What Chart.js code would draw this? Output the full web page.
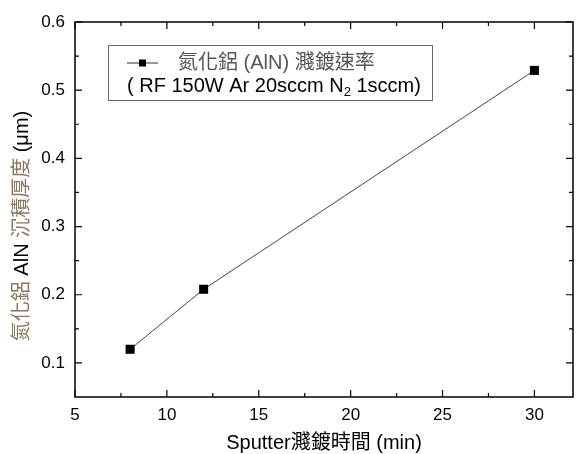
<!DOCTYPE html>
<html>
<head>
<meta charset="utf-8">
<script src="https://cdn.jsdelivr.net/npm/chart.js@4"></script>
<style>
  html, body { margin: 0; background: #fff; }
  #wrap { width: 587px; height: 454px; }
</style>
</head>
<body>
<div id="wrap"><canvas id="chart"></canvas></div>
<script>
// Data
const sputterTime = [8, 12, 30];
const thickness = [0.12, 0.208, 0.529];
const xTicks = [5, 10, 15, 20, 25, 30];
const yTicks = [0.1, 0.2, 0.3, 0.4, 0.5, 0.6];
const seriesLabel = "氮化鋁 (AlN) 濺鍍速率";
const conditionText = ["( RF 150W Ar 20sccm N", "2", " 1sccm)"];
const xTitle = "Sputter濺鍍時間 (min)";
const yTitleParts = [["氮化鋁", true], [" AlN ", false], ["沉積厚度", true], [" (μm)", false]];

const FONT = '"Liberation Sans", Arial, "Noto Sans CJK TC", sans-serif';
const CJK_COLOR = "#8a7560";

// Frame, inward ticks, titles, legend
const framePlugin = {
  id: "frame",
  afterDraw(chart) {
    const ctx = chart.ctx;
    const a = chart.chartArea;
    const xs = chart.scales.x;
    const ys = chart.scales.y;
    ctx.save();
    ctx.strokeStyle = "#000";
    ctx.lineWidth = 1.5;
    ctx.strokeRect(a.left, a.top, a.right - a.left, a.bottom - a.top);

    ctx.lineWidth = 1.2;
    ctx.beginPath();
    xTicks.forEach((v) => {
      const px = xs.getPixelForValue(v);
      ctx.moveTo(px, a.bottom); ctx.lineTo(px, a.bottom - 7);
      ctx.moveTo(px, a.top); ctx.lineTo(px, a.top + 7);
      const mv = v + 2.5;
      if (mv < xs.max) {
        const mp = xs.getPixelForValue(mv);
        ctx.moveTo(mp, a.bottom); ctx.lineTo(mp, a.bottom - 4);
        ctx.moveTo(mp, a.top); ctx.lineTo(mp, a.top + 4);
      }
    });
    yTicks.forEach((v) => {
      const py = ys.getPixelForValue(v);
      ctx.moveTo(a.left, py); ctx.lineTo(a.left + 7, py);
      ctx.moveTo(a.right, py); ctx.lineTo(a.right - 7, py);
      const mv = v - 0.05;
      if (mv > ys.min) {
        const mp = ys.getPixelForValue(mv);
        ctx.moveTo(a.left, mp); ctx.lineTo(a.left + 4, mp);
        ctx.moveTo(a.right, mp); ctx.lineTo(a.right - 4, mp);
      }
    });
    ctx.stroke();

    // x title
    ctx.font = "20px " + FONT;
    ctx.fillStyle = "#000";
    ctx.textAlign = "center";
    ctx.textBaseline = "middle";
    ctx.fillText(xTitle, (a.left + a.right) / 2, 443);

    // y title, mixed colours
    ctx.save();
    ctx.translate(22, 226);
    ctx.rotate(-Math.PI / 2);
    ctx.textAlign = "left";
    let total = 0;
    yTitleParts.forEach(p => total += ctx.measureText(p[0]).width);
    let x = -total / 2;
    yTitleParts.forEach(p => {
      ctx.fillStyle = p[1] ? CJK_COLOR : "#000";
      ctx.fillText(p[0], x, 0);
      x += ctx.measureText(p[0]).width;
    });
    ctx.restore();

    // legend box
    ctx.strokeStyle = "#666";
    ctx.lineWidth = 1;
    ctx.strokeRect(108.5, 45.5, 324, 55);
    ctx.strokeStyle = "#333";
    ctx.beginPath();
    ctx.moveTo(127, 63); ctx.lineTo(158, 63);
    ctx.stroke();
    ctx.fillStyle = "#000";
    ctx.fillRect(139, 59.5, 7, 7);
    ctx.font = "20px " + FONT;
    ctx.textAlign = "left";
    ctx.textBaseline = "middle";
    ctx.fillStyle = "#555";
    ctx.fillText(seriesLabel, 178, 63);
    ctx.fillStyle = "#000";
    let lx = 127;
    ctx.fillText(conditionText[0], lx, 86);
    lx += ctx.measureText(conditionText[0]).width;
    ctx.font = "13px " + FONT;
    ctx.fillText(conditionText[1], lx, 92);
    lx += ctx.measureText(conditionText[1]).width;
    ctx.font = "20px " + FONT;
    ctx.fillText(conditionText[2], lx, 86);
    ctx.restore();
  }
};

new Chart(document.getElementById("chart"), {
  type: "line",
  data: {
    datasets: [{
      label: seriesLabel,
      data: sputterTime.map((t, i) => ({ x: t, y: thickness[i] })),
      borderColor: "#444",
      borderWidth: 1,
      backgroundColor: "#000",
      pointStyle: "rect",
      pointRadius: 6.4,
      pointBorderWidth: 0,
      pointBackgroundColor: "#000",
      tension: 0,
    }],
  },
  options: {
    responsive: true,
    maintainAspectRatio: false,
    animation: false,
    layout: { padding: { top: 22, right: 14, left: 0, bottom: 0 } },
    plugins: { legend: { display: false }, tooltip: { enabled: false } },
    scales: {
      x: {
        type: "linear",
        min: 5,
        max: 32.1,
        afterBuildTicks: (s) => { s.ticks = xTicks.map(v => ({ value: v })); },
        afterFit: (s) => { s.height = 57; },
        grid: { display: false, drawTicks: false },
        border: { display: false },
        ticks: { padding: 8, color: "#000", font: { family: FONT, size: 17 }, maxRotation: 0 },
      },
      y: {
        min: 0.05,
        max: 0.6,
        afterBuildTicks: (s) => { s.ticks = yTicks.map(v => ({ value: v })); },
        afterFit: (s) => { s.width = 75; },
        grid: { display: false, drawTicks: false },
        border: { display: false },
        ticks: { padding: 10, color: "#000", font: { family: FONT, size: 17 },
          callback: (v) => v.toFixed(1) },
      },
    },
  },
  plugins: [framePlugin],
});
</script>
</body>
</html>
